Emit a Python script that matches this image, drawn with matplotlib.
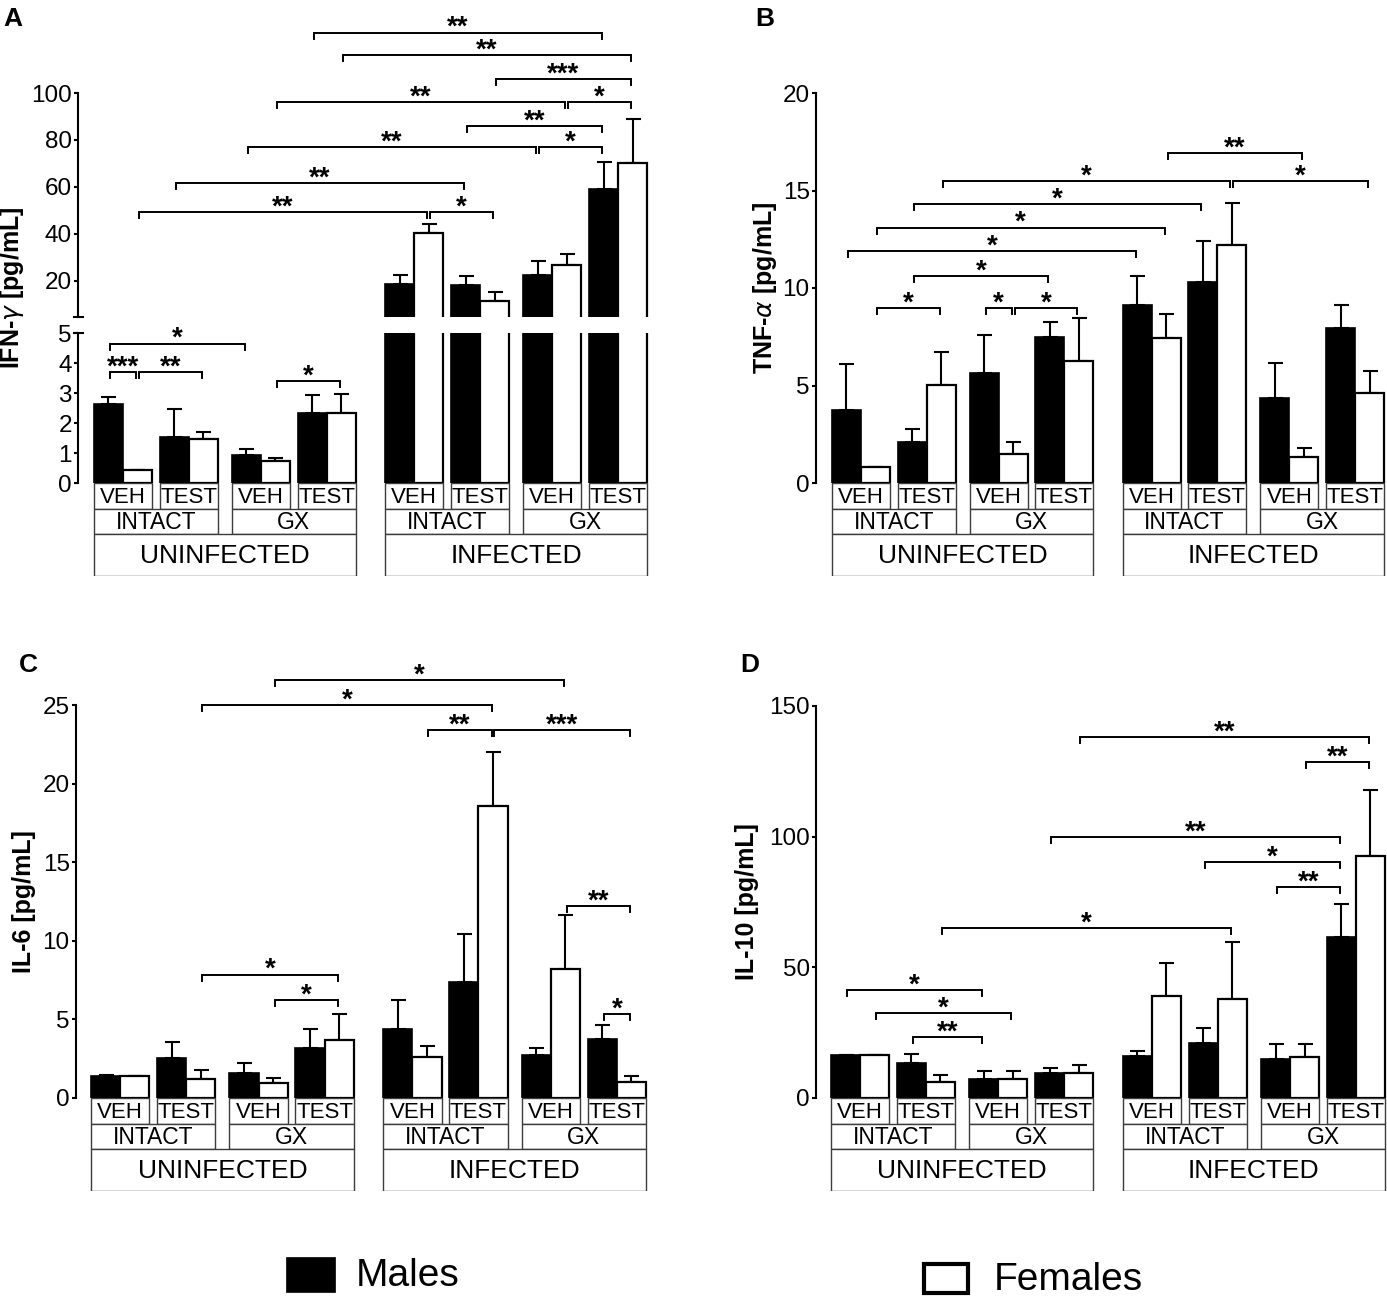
import matplotlib
matplotlib.use("Agg")
import matplotlib.pyplot as plt
from matplotlib.patches import Rectangle
import numpy as np

plt.rcParams['font.family'] = ['Liberation Sans', 'DejaVu Sans']
plt.rcParams['mathtext.fontset'] = 'dejavusans'

W, H, DPI = 1387, 1297, 100

# ---------------- categories ----------------
infection = ['UNINFECTED', 'INFECTED']
surgery = ['INTACT', 'GX']
treatment = ['VEH', 'TEST']
sexes = ['Males', 'Females']
sex_colors = ['black', 'white']

# ---------------- Panel A : IFN-gamma ----------------
ifn_male = [2.62, 1.52, 0.95, 2.35, 18.9, 18.1, 22.4, 59.1]
ifn_male_sem = [0.25, 0.95, 0.19, 0.59, 3.5, 4.0, 6.3, 11.6]
ifn_female = [0.45, 1.47, 0.72, 2.35, 40.3, 11.3, 26.7, 70.4]
ifn_female_sem = [0.0, 0.24, 0.13, 0.62, 4.1, 3.9, 5.0, 18.5]
ifn_sig = [('M3', 'M7', 125.7, '**'), ('F3', 'F7', 116.2, '**'),
           ('F5', 'F7', 106.0, '***'), ('F2', 'F6', 96.1, '**'),
           ('F6', 'F7', 96.1, '*'), ('M5', 'M7', 86.1, '**'),
           ('M2', 'M6', 77.1, '**'), ('M6', 'M7', 77.1, '*'),
           ('M1', 'M5', 61.7, '**'), ('F0', 'F4', 49.3, '**'),
           ('F4', 'F5', 49.3, '*'), ('M0', 'M2', 4.65, '*'),
           ('M0', 'F0', 3.70, '***'), ('F0', 'F1', 3.70, '**'),
           ('F2', 'F3', 3.39, '*')]
ifn_ticks_upper = [20, 40, 60, 80, 100]
ifn_ticks_lower = [0, 1, 2, 3, 4, 5]

# ---------------- Panel B : TNF-alpha ----------------
tnf_male = [3.76, 2.12, 5.65, 7.48, 9.15, 10.31, 4.34, 7.96]
tnf_male_sem = [2.33, 0.67, 1.92, 0.77, 1.45, 2.12, 1.79, 1.15]
tnf_female = [0.83, 5.01, 1.50, 6.26, 7.42, 12.2, 1.35, 4.62]
tnf_female_sem = [0.0, 1.70, 0.58, 2.18, 1.25, 2.15, 0.44, 1.12]
tnf_sig = [('F4', 'F6', 16.92, '**'), ('F1', 'F5', 15.47, '*'),
           ('F5', 'F7', 15.47, '*'), ('M1', 'M5', 14.32, '*'),
           ('F0', 'F4', 13.1, '*'), ('M0', 'M4', 11.9, '*'),
           ('M1', 'M3', 10.6, '*'), ('F0', 'F1', 8.96, '*'),
           ('M2', 'F2', 8.96, '*'), ('F2', 'F3', 8.96, '*')]
tnf_ticks = [0, 5, 10, 15, 20]

# ---------------- Panel C : IL-6 ----------------
il6_male = [1.41, 2.55, 1.60, 3.19, 4.42, 7.38, 2.71, 3.76]
il6_male_sem = [0.05, 1.03, 0.61, 1.23, 1.82, 3.03, 0.48, 0.89]
il6_female = [1.37, 1.23, 0.96, 3.69, 2.62, 18.55, 8.18, 1.03]
il6_female_sem = [0.0, 0.52, 0.34, 1.67, 0.68, 3.46, 3.49, 0.38]
il6_sig = [('F2', 'F6', 26.6, '*'), ('F1', 'F5', 25.0, '*'),
           ('F4', 'F5', 23.4, '**'), ('F5', 'F7', 23.4, '***'),
           ('F6', 'F7', 12.2, '**'), ('F1', 'F3', 7.85, '*'),
           ('F2', 'F3', 6.25, '*'), ('M7', 'F7', 5.35, '*')]
il6_ticks = [0, 5, 10, 15, 20, 25]

# ---------------- Panel D : IL-10 ----------------
il10_male = [16.3, 13.3, 7.4, 9.5, 16.1, 20.9, 15.1, 61.7]
il10_male_sem = [0.0, 3.5, 2.8, 2.0, 1.8, 5.7, 5.4, 12.5]
il10_female = [16.3, 6.2, 7.4, 9.5, 39.0, 38.0, 15.7, 92.7]
il10_female_sem = [0.0, 2.6, 2.8, 3.1, 12.8, 21.6, 4.8, 25.0]
il10_sig = [('F3', 'F7', 138.0, '**'), ('F6', 'F7', 128.5, '**'),
            ('M3', 'M7', 99.8, '**'), ('M5', 'M7', 90.3, '*'),
            ('M6', 'M7', 80.6, '**'), ('F1', 'F5', 65.0, '*'),
            ('M0', 'M2', 41.4, '*'), ('F0', 'F2', 32.6, '*'),
            ('M1', 'M2', 23.3, '**')]
il10_ticks = [0, 50, 100, 150]

# ---------------- layout helpers ----------------
GAP_IN, GAP_SURG, GAP_INF = 0.27, 0.49, 1.02
pair_start = []
pos = 0.0
for i in range(2):
    for j in range(2):
        for k in range(2):
            pair_start.append(pos)
            pos += 2.0 + (GAP_IN if k == 0 else 0)
        pos += (GAP_SURG if j == 0 else 0)
    pos += GAP_INF
TOTAL = pair_start[-1] + 2.0

TICK_FS = 17.5
STAR_FS = 20
YLAB_FS = 18

fig = plt.figure(figsize=(W / DPI, H / DPI), dpi=DPI)


def rect(x0, y0, x1, y1):
    return [x0 / W, 1 - y1 / H, (x1 - x0) / W, (y1 - y0) / H]


def bar_x(code):
    p = int(code[1])
    return pair_start[p] + (0.5 if code[0] == 'M' else 1.5)


def xlims(spine_x, bars_left, bars_right):
    u = (bars_right - bars_left) / TOTAL
    return (-(bars_left - spine_x) / u, TOTAL + 3 / u), bars_right + 3


def px_per_unit(ax):
    bb = ax.get_position()
    y0, y1 = ax.get_ylim()
    return bb.height * H / (y1 - y0)


def style_axis(ax, ticks):
    for s in ['top', 'right', 'bottom']:
        ax.spines[s].set_visible(False)
    ax.spines['left'].set_linewidth(1.5)
    ax.set_xticks([])
    ax.set_yticks(ticks)
    ax.tick_params(axis='y', length=3, width=1.5, pad=1.5, labelsize=TICK_FS)


def draw_bars(ax, male, msem, female, fsem):
    xm = [ps + 0.5 for ps in pair_start]
    xf = [ps + 1.5 for ps in pair_start]
    ax.errorbar(xm, male, yerr=[np.zeros(len(male)), msem], fmt='none',
                ecolor='black', elinewidth=1.5, capsize=5.4, capthick=1.5, zorder=1)
    ax.errorbar(xf, female, yerr=[np.zeros(len(female)), fsem], fmt='none',
                ecolor='black', elinewidth=1.5, capsize=5.4, capthick=1.5, zorder=1)
    ax.bar(xm, male, width=1.0, color=sex_colors[0], edgecolor='black',
           linewidth=1.2, zorder=2)
    ax.bar(xf, female, width=1.0, color=sex_colors[1], edgecolor='black',
           linewidth=1.6, zorder=3)


def bracket(ax, a, b, y, txt):
    x1 = bar_x(a) + 0.05
    x2 = bar_x(b) - 0.05
    d = 6.0 / px_per_unit(ax)
    ax.plot([x1, x1, x2, x2], [y - d, y, y, y - d], color='black', lw=1.4,
            clip_on=False, zorder=5, solid_joinstyle='miter')
    ax.annotate(txt, ((x1 + x2) / 2, y), xytext=(0, -1.8),
                textcoords='offset points', ha='center', va='baseline',
                fontsize=STAR_FS, fontweight='bold', annotation_clip=False,
                zorder=6)


def category_boxes(spine_x, bars_left, bars_right, top_px):
    xl, right = xlims(spine_x, bars_left, bars_right)
    axb = fig.add_axes(rect(spine_x, top_px, right, top_px + 93))
    axb.set_xlim(xl)
    axb.set_ylim(93, 0)
    axb.axis('off')
    ec, lw = '#3c3c3c', 1.0
    for p, ps in enumerate(pair_start):
        axb.add_patch(Rectangle((ps, 0), 2.0, 26, facecolor='white',
                                edgecolor=ec, lw=lw))
        axb.text(ps + 1.0, 14.5, treatment[p % 2], ha='center', va='center',
                 fontsize=16)
    for s in range(4):
        x0 = pair_start[2 * s]
        x1 = pair_start[2 * s + 1] + 2.0
        axb.add_patch(Rectangle((x0, 26), x1 - x0, 25, facecolor='white',
                                edgecolor=ec, lw=lw))
        axb.text((x0 + x1) / 2, 39.5, surgery[s % 2], ha='center', va='center',
                 fontsize=16.5)
    for g in range(2):
        x0 = pair_start[4 * g]
        x1 = pair_start[4 * g + 3] + 2.0
        axb.add_patch(Rectangle((x0, 51), x1 - x0, 42, facecolor='white',
                                edgecolor=ec, lw=lw))
        axb.text((x0 + x1) / 2, 73, infection[g], ha='center', va='center',
                 fontsize=19)


def simple_panel(spine_x, bars_left, bars_right, top_px, bot_px, ymax,
                 male, msem, female, fsem, sig, ticks, ylabel, label_x,
                 letter, letter_xy):
    xl, right = xlims(spine_x, bars_left, bars_right)
    ax = fig.add_axes(rect(spine_x, top_px, right, bot_px))
    ax.set_xlim(xl)
    ax.set_ylim(0, ymax)
    style_axis(ax, ticks)
    draw_bars(ax, male, msem, female, fsem)
    for a, b, y, t in sig:
        bracket(ax, a, b, y, t)
    category_boxes(spine_x, bars_left, bars_right, bot_px)
    fig.text(label_x / W, 1 - (top_px + bot_px) / 2 / H, ylabel, rotation=90,
             ha='center', va='center', fontsize=YLAB_FS, fontweight='bold')
    fig.text(letter_xy[0] / W, 1 - letter_xy[1] / H, letter, ha='left',
             va='top', fontsize=19, fontweight='bold')
    return ax


# ---------------- Panel A (broken axis) ----------------
A_spine, A_left, A_right = 78, 94, 647
xlA, rightA = xlims(A_spine, A_left, A_right)
axU = fig.add_axes(rect(A_spine, 93, rightA, 317))
axU.set_xlim(xlA)
axU.set_ylim(4.68, 100)
style_axis(axU, ifn_ticks_upper)
axL = fig.add_axes(rect(A_spine, 333, rightA, 483))
axL.set_xlim(xlA)
axL.set_ylim(0, 5)
style_axis(axL, ifn_ticks_lower)
for ax in (axU, axL):
    draw_bars(ax, ifn_male, ifn_male_sem, ifn_female, ifn_female_sem)
for a, b, y, t in ifn_sig:
    bracket(axU if y > 5 else axL, a, b, y, t)
# break marks
wA = (rightA - A_spine)
axU.plot([-4.0 / wA, 5.0 / wA], [0, 0], transform=axU.transAxes, color='black',
         lw=1.5, clip_on=False)
axL.plot([-4.0 / wA, 5.0 / wA], [1, 1], transform=axL.transAxes, color='black',
         lw=1.5, clip_on=False)
category_boxes(A_spine, A_left, A_right, 483)
fig.text(12 / W, 1 - 288 / H, r'IFN-$\gamma$ [pg/mL]', rotation=90,
         ha='center', va='center', fontsize=YLAB_FS, fontweight='bold')
fig.text(3 / W, 1 - 7 / H, 'A', ha='left', va='top', fontsize=19,
         fontweight='bold')

# ---------------- Panels B, C, D ----------------
simple_panel(816, 832, 1384, 93, 483, 20, tnf_male, tnf_male_sem, tnf_female,
             tnf_female_sem, tnf_sig, tnf_ticks, r'TNF-$\alpha$ [pg/mL]', 765,
             'B', (755, 7))
simple_panel(76, 91, 646, 705, 1098, 25, il6_male, il6_male_sem, il6_female,
             il6_female_sem, il6_sig, il6_ticks, 'IL-6 [pg/mL]', 24,
             'C', (19, 653))
simple_panel(816, 831, 1385, 706, 1098, 150, il10_male, il10_male_sem,
             il10_female, il10_female_sem, il10_sig, il10_ticks,
             'IL-10 [pg/mL]', 747, 'D', (740, 653))

# ---------------- legend ----------------
fig.add_artist(Rectangle((286 / W, 1 - 1292 / H), 49 / W, 35 / H,
                         transform=fig.transFigure, facecolor=sex_colors[0],
                         edgecolor='black', lw=0.5))
fig.text(356 / W, 1 - 1276 / H, sexes[0], ha='left', va='center', fontsize=28)
fig.add_artist(Rectangle((924 / W, 1 - 1293 / H), 44 / W, 29 / H,
                         transform=fig.transFigure, facecolor=sex_colors[1],
                         edgecolor='black', lw=3.0))
fig.text(994 / W, 1 - 1280 / H, sexes[1], ha='left', va='center', fontsize=28)

fig.savefig('out.png', dpi=DPI, facecolor='white')
